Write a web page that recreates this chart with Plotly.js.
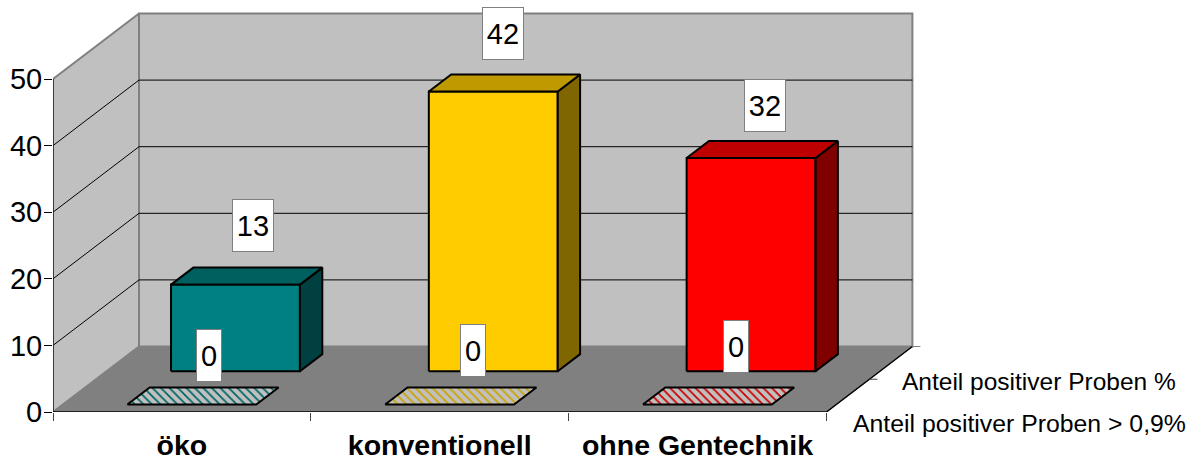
<!DOCTYPE html>
<html>
<head>
<meta charset="utf-8">
<script src="https://cdn.plot.ly/plotly-3.0.1.min.js"></script>
<style>html,body{margin:0;padding:0;background:#fff}#c{width:1195px;height:462px}</style>
</head>
<body>
<div id="c"></div>
<script>
var categories = ['öko', 'konventionell', 'ohne Gentechnik'];
var seriesNames = ['Anteil positiver Proben > 0,9%', 'Anteil positiver Proben %'];
var frontValues = [0, 0, 0];
var backValues = [13, 42, 32];
var yTicks = [0, 10, 20, 30, 40, 50];
var faceColors = ['#008080', '#FFCC00', '#FF0000'];
var topColors = ['#006060', '#BF9900', '#BF0000'];
var sideColors = ['#004040', '#806600', '#800000'];
var hatchColors = ['#006666', '#CCA300', '#CC0000'];
var frontLabelShift = [[6, 40], [12, 45], [17, 49]];
var backLabelShift = [[7, 51], [-1, 50], [3, 44]];

var PX_CAT = 257.8, PX_VAL = 6.66;
var DX = 86 / PX_CAT, DY = 65.5 / PX_VAL;
var N = categories.length, VMAX = 50;
function X(c, d) { return c + d * DX; }
function Y(v, d) { return v + d * DY; }
var traces = [];
function poly(pts, fill, lineColor, lineWidth, pattern) {
  var t = {
    type: 'scatter', mode: 'lines', hoverinfo: 'skip', cliponaxis: false,
    x: pts.map(function (p) { return X(p[0], p[2]); }),
    y: pts.map(function (p) { return Y(p[1], p[2]); }),
    line: { color: lineColor, width: lineWidth, shape: 'linear' }
  };
  if (fill) { t.fill = 'toself'; t.fillcolor = fill; }
  if (pattern) { t.fillpattern = pattern; }
  traces.push(t);
}
poly([[0,0,0],[N,0,0],[N,0,1],[0,0,1],[0,0,0]], '#808080', '#808080', 1);
poly([[0,0,1],[N,0,1],[N,VMAX,1],[0,VMAX,1],[0,0,1]], '#C0C0C0', '#808080', 2);
poly([[0,0,0],[0,0,1],[0,VMAX,1],[0,VMAX,0],[0,0,0]], '#C0C0C0', '#808080', 2);
yTicks.forEach(function (v) {
  if (v === 0 || v === VMAX) return;
  poly([[0,v,0],[0,v,1],[N,v,1]], null, '#000000', 1);
});
poly([[0,0,0],[0,VMAX,0]], null, '#222222', 1.5);
poly([[0,0,0],[N,0,0],[N,0,1]], null, '#000000', 1.5);
function bar(c, v, d0, d1, i, pattern) {
  var a = c + 0.25, b = c + 0.75;
  if (v > 0) {
    poly([[a,0,d0],[b,0,d0],[b,v,d0],[a,v,d0],[a,0,d0]], faceColors[i], '#000000', 2);
    poly([[b,0,d0],[b,0,d1],[b,v,d1],[b,v,d0],[b,0,d0]], sideColors[i], '#000000', 2);
    poly([[a,v,d0],[b,v,d0],[b,v,d1],[a,v,d1],[a,v,d0]], topColors[i], '#000000', 2);
  } else {
    poly([[a,v,d0],[b,v,d0],[b,v,d1],[a,v,d1],[a,v,d0]], '#C0C0C0', '#000000', 2, pattern);
  }
}
var D_BACK = [0.623, 0.883], D_FRONT = [0.115, 0.375];
backValues.forEach(function (v, i) { bar(i, v, D_BACK[0], D_BACK[1], i); });
frontValues.forEach(function (v, i) {
  bar(i, v, D_FRONT[0], D_FRONT[1], i, { shape: '\\', bgcolor: '#C0C0C0', fgcolor: hatchColors[i], size: 6, solidity: 0.3 });
});
var ann = [];
function valueLabel(v, i, dMid, shift) {
  ann.push({
    xref: 'x', yref: 'y', x: X(i + 0.5, dMid), y: Y(v, dMid), text: String(v), showarrow: false,
    xshift: shift[0], yshift: shift[1], xanchor: 'center', yanchor: 'middle',
    width: String(v).length > 1 ? 40 : 24, height: 51, align: 'center', valign: 'middle',
    bgcolor: '#FFFFFF', bordercolor: '#808080', borderwidth: 1, borderpad: 0,
    font: { size: 29, color: '#000000', family: 'Liberation Sans' }
  });
}
backValues.forEach(function (v, i) { valueLabel(v, i, 0.75, backLabelShift[i]); });
frontValues.forEach(function (v, i) { valueLabel(v, i, 0.25, frontLabelShift[i]); });
ann.push({ xref: 'x', yref: 'y', x: X(N, 0.25), y: Y(0, 0.25), text: seriesNames[0], showarrow: false,
  xanchor: 'left', yanchor: 'middle', xshift: 3, yshift: -28, font: { size: 24.8, color: '#000', family: 'Liberation Sans' } });
ann.push({ xref: 'x', yref: 'y', x: X(N, 0.75), y: Y(0, 0.75), text: seriesNames[1], showarrow: false,
  xanchor: 'left', yanchor: 'middle', xshift: 9, yshift: -19, font: { size: 24.5, color: '#000', family: 'Liberation Sans' } });
var depthTicks = [0.5, 1];
depthTicks.forEach(function (d) {
  traces.push({ type: 'scatter', mode: 'lines', hoverinfo: 'skip', cliponaxis: false,
    x: [X(N, d), X(N, d) + 8 / PX_CAT], y: [Y(0, d), Y(0, d)],
    line: { color: d === 1 ? '#808080' : '#444444', width: 1 } });
});

var layout = {
  width: 1195, height: 462, showlegend: false,
  paper_bgcolor: '#FFFFFF', plot_bgcolor: '#FFFFFF',
  margin: { l: 53, r: 0, t: 0, b: 50, pad: 0 },
  font: { family: 'Liberation Sans', color: '#000000' },
  xaxis: {
    range: [0, 1142 / PX_CAT], showgrid: false, zeroline: false, showline: false, fixedrange: true,
    tickmode: 'array', tickvals: categories.map(function (c, i) { return i + 0.5; }), ticktext: categories,
    ticks: 'outside', ticklen: 8, tickcolor: 'rgba(0,0,0,0)',
    tickfont: { size: 28.5, family: 'Liberation Sans', color: '#000000', weight: 'bold' },
    minor: { tickmode: 'array', tickvals: [0, 1, 2, 3], ticks: 'outside', ticklen: 8, tickcolor: '#444444', tickwidth: 1, showgrid: false }
  },
  yaxis: {
    range: [0, 412 / PX_VAL], showgrid: false, zeroline: false, showline: false, fixedrange: true,
    tickmode: 'array', tickvals: yTicks, ticktext: yTicks.map(String),
    ticks: 'outside', ticklen: 8, tickcolor: '#000000', tickwidth: 1, ticklabelstandoff: -4,
    tickfont: { size: 29, family: 'Liberation Sans', color: '#000000' }
  },
  annotations: ann
};
Plotly.newPlot('c', traces, layout, { displayModeBar: false, staticPlot: true });
</script>
</body>
</html>
